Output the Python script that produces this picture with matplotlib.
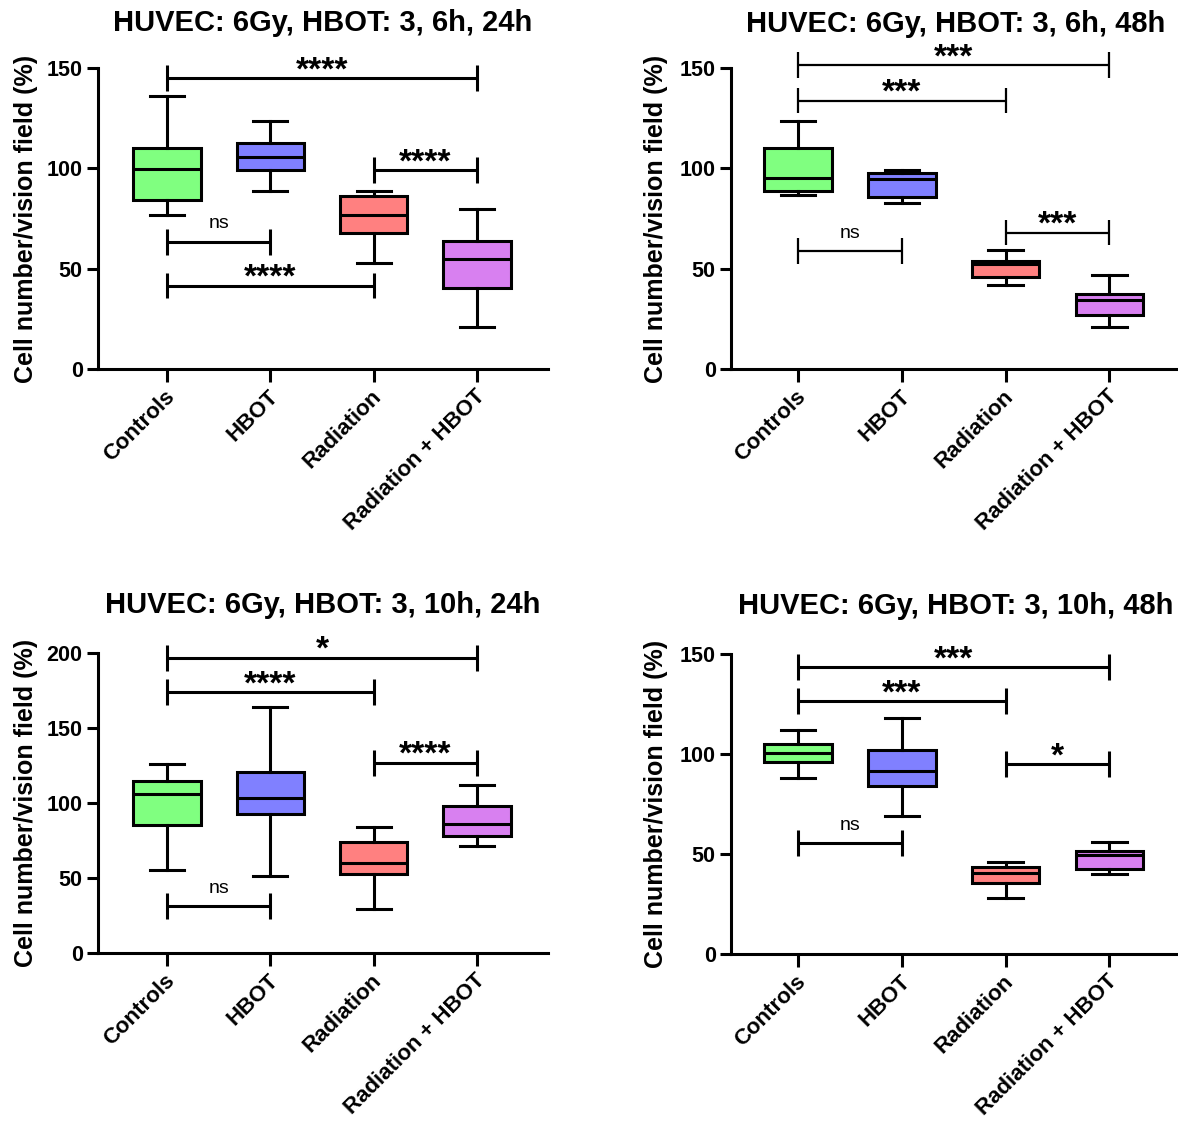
import matplotlib.pyplot as plt
import matplotlib.transforms as mtransforms

plt.rcParams['font.family'] = ['Liberation Sans', 'DejaVu Sans']

groups = ['Controls', 'HBOT', 'Radiation', 'Radiation + HBOT']
colors = ['#80FF80', '#8080FF', '#FF8080', '#D880F0']

titles = ['HUVEC: 6Gy, HBOT: 3, 6h, 24h', 'HUVEC: 6Gy, HBOT: 3, 6h, 48h',
          'HUVEC: 6Gy, HBOT: 3, 10h, 24h', 'HUVEC: 6Gy, HBOT: 3, 10h, 48h']
y_max = [150, 150, 200, 150]

# box stats, one list per panel: whisker low, Q1, median, Q3, whisker high
p1_lo = [76.5, 88.6, 52.7, 20.8]
p1_q1 = [84.0, 99.3, 67.7, 40.4]
p1_med = [99.8, 105.6, 76.5, 54.9]
p1_q3 = [110.0, 112.8, 86.1, 63.7]
p1_hi = [135.9, 123.6, 88.6, 79.7]

p2_lo = [86.7, 82.8, 42.0, 20.8]
p2_q1 = [88.7, 85.8, 46.0, 26.7]
p2_med = [95.0, 94.7, 52.2, 34.5]
p2_q3 = [110.3, 97.5, 53.7, 37.5]
p2_hi = [123.8, 99.0, 59.3, 46.7]

p3_lo = [55.6, 51.1, 29.1, 71.1]
p3_q1 = [85.1, 92.4, 52.9, 77.8]
p3_med = [106.2, 103.3, 60.2, 86.2]
p3_q3 = [114.7, 120.4, 74.0, 97.8]
p3_hi = [126.2, 164.0, 84.0, 112.2]

p4_lo = [87.9, 69.1, 28.2, 40.2]
p4_q1 = [95.8, 84.2, 35.4, 42.4]
p4_med = [100.7, 91.7, 40.5, 49.3]
p4_q3 = [105.1, 102.2, 43.4, 51.5]
p4_hi = [111.8, 117.8, 46.0, 56.0]

# significance brackets: (group a, group b, height, label)
p1_sig = [(0, 3, 145.0, '****'), (2, 3, 99.3, '****'), (0, 1, 63.5, 'ns'), (0, 2, 41.6, '****')]
p2_sig = [(0, 3, 151.3, '***'), (0, 2, 133.8, '***'), (0, 1, 58.8, 'ns'), (2, 3, 68.0, '***')]
p3_sig = [(0, 3, 196.9, '*'), (0, 2, 173.8, '****'), (2, 3, 126.9, '****'), (0, 1, 31.1, 'ns')]
p4_sig = [(0, 3, 143.4, '***'), (0, 2, 126.6, '***'), (2, 3, 95.0, '*'), (0, 1, 55.6, 'ns')]

W, H = 1178, 1122


def px_axes(fig, x0, x1, ybot, ytop):
    return fig.add_axes([x0 / W, 1 - ybot / H, (x1 - x0) / W, (ybot - ytop) / H])


def draw_panel(ax, lo, q1, med, q3, hi, sig, ymax, title, xlim, br_lw, title_pad, ylab_x):
    lw = 2.2
    stats = [dict(whislo=a, q1=b, med=c, q3=d, whishi=e)
             for a, b, c, d, e in zip(lo, q1, med, q3, hi)]
    bp = ax.bxp(stats, positions=range(4), widths=0.65, capwidths=0.33,
                patch_artist=True, showfliers=False,
                boxprops=dict(linewidth=lw, edgecolor='black'),
                medianprops=dict(color='black', linewidth=lw),
                whiskerprops=dict(color='black', linewidth=lw),
                capprops=dict(color='black', linewidth=lw))
    for patch, c in zip(bp['boxes'], colors):
        patch.set_facecolor(c)

    h = ymax * 0.043
    for a, b, y, label in sig:
        kw = dict(color='black', lw=br_lw, clip_on=False, solid_capstyle='butt')
        ax.plot([a, b], [y, y], **kw)
        ax.plot([a, a], [y - h, y + h], **kw)
        ax.plot([b, b], [y - h, y + h], **kw)
        if label == 'ns':
            ax.annotate(label, xy=((a + b) / 2, y), xytext=(0, 9.5), textcoords='offset points',
                        ha='center', va='baseline', fontsize=14, annotation_clip=False)
        else:
            ax.annotate(label, xy=((a + b) / 2, y), xytext=(0, -1), textcoords='offset points',
                        ha='center', va='baseline', fontsize=24, fontweight='bold',
                        annotation_clip=False)

    ax.set_xlim(*xlim)
    ax.set_ylim(0, ymax)
    ax.set_yticks(range(0, ymax + 1, 50))
    ax.set_xticks(range(4))
    ax.set_xticklabels(groups)
    for sp in ['top', 'right']:
        ax.spines[sp].set_visible(False)
    for sp in ['left', 'bottom']:
        ax.spines[sp].set_linewidth(lw)
    ax.tick_params(axis='y', length=8, width=lw, labelsize=15.5, pad=3)
    ax.tick_params(axis='x', length=9.5, width=lw, labelsize=16, pad=8)
    for t in ax.get_yticklabels() + ax.get_xticklabels():
        t.set_fontweight('bold')
    plt.setp(ax.get_xticklabels(), rotation=45, ha='right', va='center', rotation_mode='anchor')
    shift = mtransforms.ScaledTranslation(5 / 100, 0, ax.figure.dpi_scale_trans)
    for t in ax.get_xticklabels():
        t.set_transform(t.get_transform() + shift)
    ax.set_ylabel('Cell number/vision field (%)', fontsize=18, fontweight='bold')
    ax.yaxis.set_label_coords(ylab_x, 0.5)
    ax.set_title(title, fontsize=21, fontweight='bold', pad=title_pad)


fig = plt.figure(figsize=(W / 100, H / 100), dpi=100)

ax1 = px_axes(fig, 98, 548, 369, 68)
ax2 = px_axes(fig, 731, 1181, 369, 68)
ax3 = px_axes(fig, 98, 548, 953, 653)
ax4 = px_axes(fig, 731, 1181, 954, 654)

draw_panel(ax1, p1_lo, p1_q1, p1_med, p1_q3, p1_hi, p1_sig, y_max[0], titles[0],
           (-0.668, 3.688), 2.2, 26.5, -0.133)
draw_panel(ax2, p2_lo, p2_q1, p2_med, p2_q3, p2_hi, p2_sig, y_max[1], titles[1],
           (-0.646, 3.69), 1.6, 26.0, -0.14)
draw_panel(ax3, p3_lo, p3_q1, p3_med, p3_q3, p3_hi, p3_sig, y_max[2], titles[2],
           (-0.668, 3.688), 2.2, 28.8, -0.133)
draw_panel(ax4, p4_lo, p4_q1, p4_med, p4_q3, p4_hi, p4_sig, y_max[3], titles[3],
           (-0.646, 3.69), 2.2, 28.8, -0.14)

fig.savefig('out.png', dpi=100)
